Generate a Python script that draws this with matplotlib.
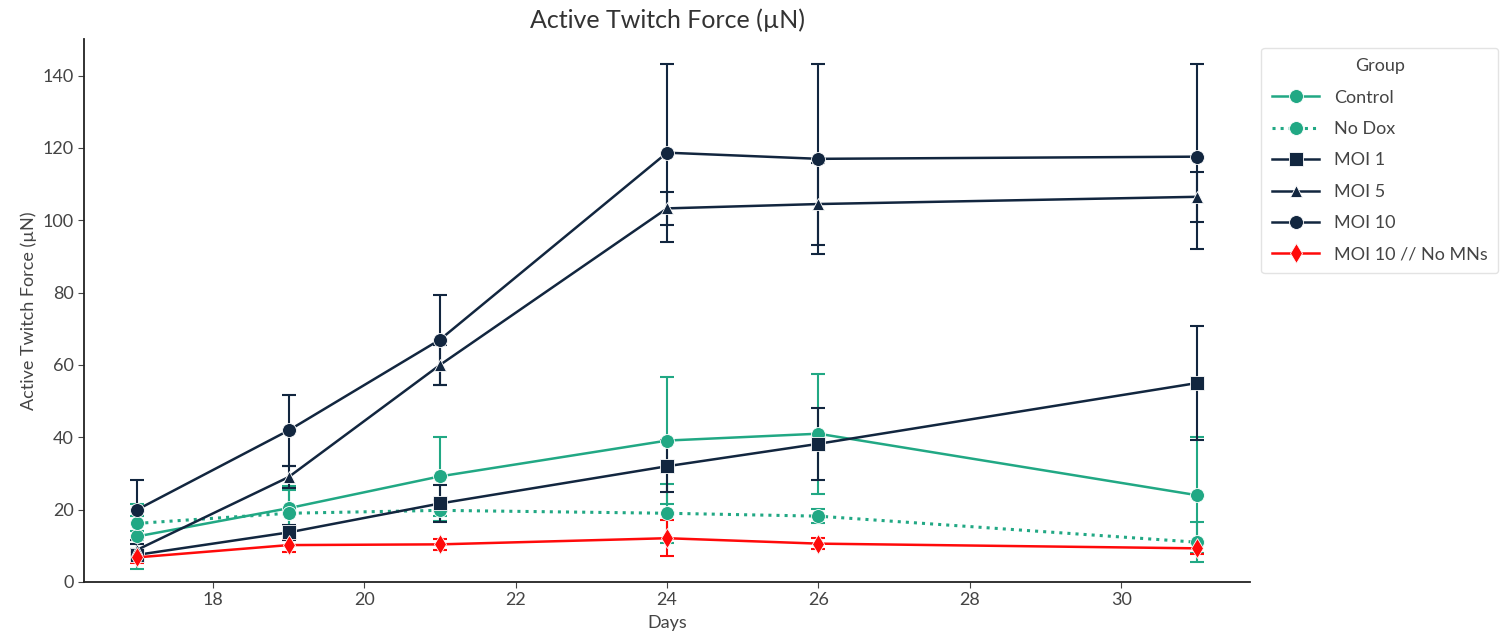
import matplotlib.pyplot as plt
import numpy as np

days = [17, 19, 21, 24, 26, 31]
groups = ["Control", "No Dox", "MOI 1", "MOI 5", "MOI 10", "MOI 10 // No MNs"]

control = [12.6, 20.4, 29.2, 39.1, 41.0, 24.0]
control_err = [9.0, 6.2, 11.0, 17.6, 16.6, 16.0]
nodox = [16.2, 19.0, 19.8, 19.0, 18.2, 11.0]
nodox_err = [2.0, 6.5, 3.0, 8.2, 2.0, 5.5]
moi1 = [7.5, 13.7, 21.7, 32.0, 38.2, 55.0]
moi1_err = [1.5, 2.0, 5.0, 7.2, 10.0, 15.7]
moi5 = [8.9, 29.0, 60.0, 103.3, 104.5, 106.5]
moi5_err = [1.5, 3.0, 5.5, 4.5, 11.3, 6.9]
moi10 = [20.0, 41.9, 67.0, 118.7, 117.0, 117.6]
moi10_err = [8.3, 9.8, 12.4, 24.6, 26.3, 25.5]
nomn = [6.8, 10.2, 10.4, 12.1, 10.6, 9.3]
nomn_err = [1.5, 1.8, 1.5, 4.9, 1.5, 1.5]

teal = "#21a884"
navy = "#12263f"
red = "#ff0a0a"

series = [
    (control, control_err, teal, "-", "o"),
    (nodox, nodox_err, teal, ":", "o"),
    (moi1, moi1_err, navy, "-", "s"),
    (moi5, moi5_err, navy, "-", "^"),
    (moi10, moi10_err, navy, "-", "o"),
    (nomn, nomn_err, red, "-", "d"),
]

plt.rcParams['font.family'] = ['Lato', 'DejaVu Sans']
fig = plt.figure(figsize=(15.04, 6.42), dpi=100)
ax = fig.add_axes([0.056, 0.0935, 0.775, 0.845])

for name, (vals, err, col, ls, mk) in zip(groups, series):
    ax.errorbar(days, vals, yerr=err, fmt='none', ecolor=col, elinewidth=1.5,
                capsize=5, capthick=1.5, zorder=2)
    ax.plot(days, vals, color=col, ls=ls, lw=2.2 if ls == ":" else 1.8, marker=mk,
            markersize=10 if mk != "^" else 9, markeredgecolor="white",
            markeredgewidth=0.6, label=name, zorder=3)

ax.set_xlim(16.3, 31.7)
ax.set_ylim(0, 150)
ax.set_xticks([18, 20, 22, 24, 26, 28, 30])
ax.set_yticks(np.arange(0, 141, 20))
ax.tick_params(labelsize=13, colors="#444444", length=4)
for s in ["top", "right"]:
    ax.spines[s].set_visible(False)
for s in ["left", "bottom"]:
    ax.spines[s].set_linewidth(1.3)
    ax.spines[s].set_color("#222222")

ax.set_xlabel("Days", fontsize=13, color="#444444", labelpad=5)
ax.set_ylabel("Active Twitch Force (µN)", fontsize=13, color="#444444")
ax.set_title("Active Twitch Force (µN)", fontsize=18, color="#333333", pad=8)

leg = ax.legend(title="Group", loc="upper left", bbox_to_anchor=(1.01, 0.985),
                borderaxespad=0, fontsize=13, title_fontsize=13, handlelength=2.6,
                labelspacing=0.85, borderpad=0.6, handletextpad=0.8)
leg.get_frame().set_edgecolor("#dddddd")
for t in leg.get_texts():
    t.set_color("#444444")
leg.get_title().set_color("#444444")

fig.savefig("out.png", dpi=100)
